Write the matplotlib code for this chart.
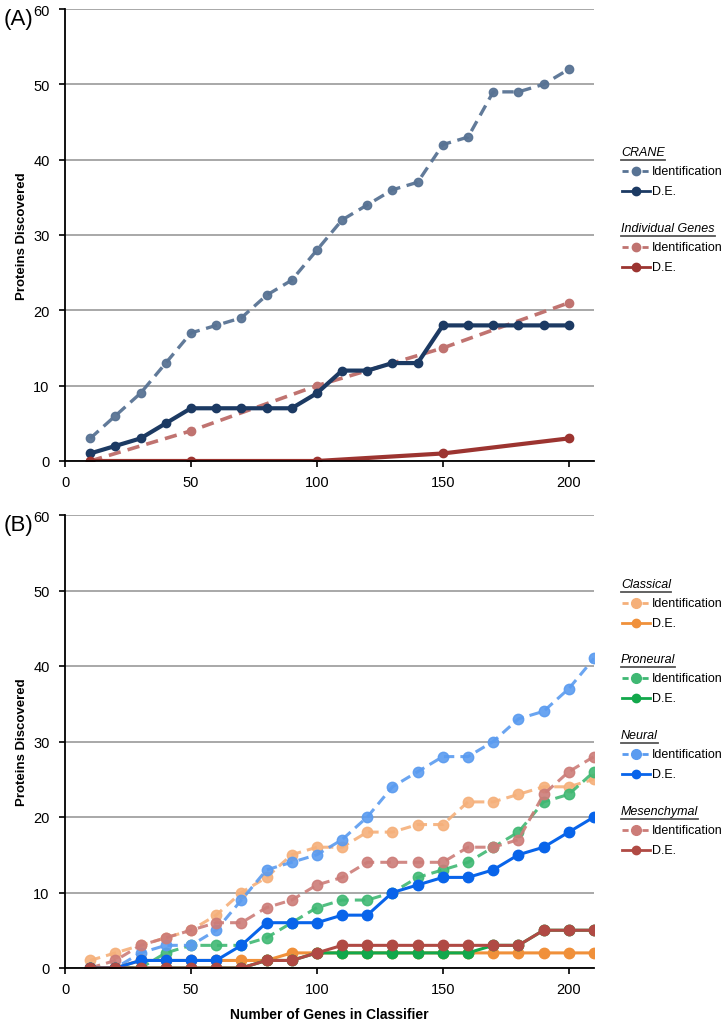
import numpy as np
import matplotlib
matplotlib.use("Agg")
import matplotlib.pyplot as plt
from matplotlib.lines import Line2D

plt.rcParams['font.family'] = ['Liberation Sans', 'DejaVu Sans']
plt.rcParams['font.size'] = 10.5

# ---- panel A data ----
x_a = list(range(10, 201, 10))
crane_id = [3, 6, 9, 13, 17, 18, 19, 22, 24, 28, 32, 34, 36, 37, 42, 43, 49, 49, 50, 52]
crane_de = [1, 2, 3, 5, 7, 7, 7, 7, 7, 9, 12, 12, 13, 13, 18, 18, 18, 18, 18, 18]
x_ind = [10, 50, 100, 150, 200]
indiv_id = [0, 4, 10, 15, 21]
indiv_de = [0, 0, 0, 1, 3]

# ---- panel B data ----
x_b = list(range(10, 211, 10))
classical_id = [1, 2, 3, 4, 5, 7, 10, 12, 15, 16, 16, 18, 18, 19, 19, 22, 22, 23, 24, 24, 25]
classical_de = [0, 0, 1, 1, 1, 1, 1, 1, 2, 2, 2, 2, 2, 2, 2, 2, 2, 2, 2, 2, 2]
proneural_id = [0, 0, 0, 2, 3, 3, 3, 4, 6, 8, 9, 9, 10, 12, 13, 14, 16, 18, 22, 23, 26]
proneural_de = [0, 0, 0, 0, 0, 0, 0, 1, 1, 2, 2, 2, 2, 2, 2, 2, 3, 3, 5, 5, 5]
neural_id = [0, 0, 2, 3, 3, 5, 9, 13, 14, 15, 17, 20, 24, 26, 28, 28, 30, 33, 34, 37, 41]
neural_de = [0, 0, 1, 1, 1, 1, 3, 6, 6, 6, 7, 7, 10, 11, 12, 12, 13, 15, 16, 18, 20]
mesen_id = [0, 1, 3, 4, 5, 6, 6, 8, 9, 11, 12, 14, 14, 14, 14, 16, 16, 17, 23, 26, 28]
mesen_de = [0, 0, 0, 0, 0, 0, 0, 1, 1, 2, 3, 3, 3, 3, 3, 3, 3, 3, 5, 5, 5]

yticks = [0, 10, 20, 30, 40, 50, 60]
xticks = [0, 50, 100, 150, 200]

DASH = (3.4, 2.0)

fig = plt.figure(figsize=(7.27, 10.2), dpi=100)
W, H = 727.0, 1020.0


def make_ax(top_px, bottom_px):
    ax = fig.add_axes([65 / W, 1 - bottom_px / H, (594 - 65) / W, (bottom_px - top_px) / H])
    ax.set_xlim(0, 210)
    ax.set_ylim(0, 60)
    ax.set_yticks(yticks)
    ax.set_xticks(xticks)
    ax.yaxis.grid(True, color='#9a9a9a', linewidth=1.2)
    ax.set_axisbelow(True)
    for s in ['top', 'right']:
        ax.spines[s].set_visible(False)
    for s in ['left', 'bottom']:
        ax.spines[s].set_linewidth(1.3)
        ax.spines[s].set_color('black')
    ax.tick_params(axis='both', direction='out', length=4, width=1.2, labelsize=10.5, pad=6)
    ax.tick_params(axis='y', pad=7)
    ax.set_ylabel('Proteins Discovered', fontsize=9.5, fontweight='bold')
    ax.yaxis.set_label_coords(-0.07, 0.5)
    return ax


ax1 = make_ax(10, 462)
ax2 = make_ax(516, 969)

# panel A lines
ax1.plot(x_a, crane_id, color='#587394', ls=(0, DASH), lw=2.4, marker='o', ms=6, alpha=0.95)
ax1.plot(x_ind, indiv_id, color='#c07370', ls=(0, DASH), lw=2.6, marker='o', ms=6)
ax1.plot(x_a, crane_de, color='#1c3a63', lw=3.0, marker='o', ms=6)
ax1.plot(x_ind, indiv_de, color='#9c3430', lw=3.0, marker='o', ms=6)

# panel B lines
groups_b = [
    (classical_id, classical_de, '#f5b07a', '#f0903a'),
    (proneural_id, proneural_de, '#3fb873', '#12a84b'),
    (neural_id, neural_de, '#5a9bf0', '#0864ea'),
    (mesen_id, mesen_de, '#cc7c78', '#b04a44'),
]
for yid, yde, cid, cde in groups_b:
    ax2.plot(x_b, yid, color=cid, ls=(0, DASH), lw=2.2, marker='o', ms=7.5, alpha=0.9)
for yid, yde, cid, cde in groups_b:
    ax2.plot(x_b, yde, color=cde, lw=2.2, marker='o', ms=7.5)

ax2.set_xlabel('Number of Genes in Classifier', fontsize=10, fontweight='bold', labelpad=8)

fig.text(4 / W, 1 - 20 / H, '(A)', fontsize=16, va='center', ha='left')
fig.text(4 / W, 1 - 526 / H, '(B)', fontsize=16, va='center', ha='left')


def legend_block(y_header, title, entries):
    # entries: list of (label, color, dashed, ms)
    t = fig.text(621 / W, 1 - y_header / H, title, fontsize=9, style='italic',
                 va='center', ha='left')
    fig.canvas.draw()
    bb = t.get_window_extent()
    fig.add_artist(Line2D([621 / W, 621 / W + bb.width / W],
                          [1 - (y_header + 8) / H] * 2, color='#555555', lw=1.3,
                          transform=fig.transFigure))
    for i, (lab, col, dashed, ms) in enumerate(entries):
        yy = 1 - (y_header + 19 + 20 * i) / H
        ls = (0, (2.2, 1.4)) if dashed else '-'
        fig.add_artist(Line2D([622 / W, 650 / W], [yy, yy], color=col, lw=2.0, ls=ls,
                              transform=fig.transFigure))
        fig.add_artist(Line2D([636 / W], [yy], color=col, marker='o', ms=ms,
                              transform=fig.transFigure))
        fig.text(652 / W, yy, lab, fontsize=9, va='center', ha='left')


legend_block(153, 'CRANE', [('Identification', '#587394', True, 6),
                            ('D.E.', '#1c3a63', False, 6)])
legend_block(229, 'Individual Genes', [('Identification', '#c07370', True, 6),
                                       ('D.E.', '#9c3430', False, 6)])
legend_block(585, 'Classical', [('Identification', '#f5b07a', True, 7),
                                ('D.E.', '#f0903a', False, 6)])
legend_block(660, 'Proneural', [('Identification', '#3fb873', True, 7),
                                ('D.E.', '#12a84b', False, 6)])
legend_block(736, 'Neural', [('Identification', '#5a9bf0', True, 7),
                             ('D.E.', '#0864ea', False, 6)])
legend_block(812, 'Mesenchymal', [('Identification', '#cc7c78', True, 7),
                                  ('D.E.', '#b04a44', False, 6)])

fig.savefig('out.png', dpi=100)
